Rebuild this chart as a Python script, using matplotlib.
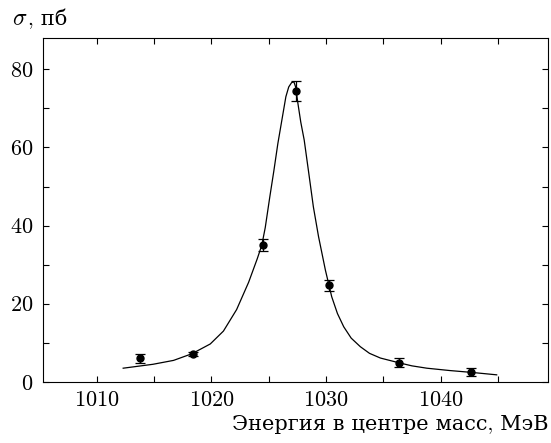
import matplotlib
matplotlib.use("Agg")
import matplotlib.pyplot as plt
from matplotlib.ticker import MultipleLocator

plt.rcParams['font.family'] = ['cmr10', 'DejaVu Serif']
plt.rcParams['mathtext.fontset'] = 'cm'
plt.rcParams['axes.formatter.use_mathtext'] = True

# measured points
energy = [1013.8, 1018.4, 1024.5, 1027.4, 1030.3, 1036.4, 1042.7]
sigma = [6.0, 7.2, 35.0, 74.4, 24.7, 4.9, 2.5]
sigma_err = [1.2, 0.5, 1.6, 2.6, 1.5, 1.2, 1.0]

# fit curve
fit_e = [1012.3, 1013.6, 1014.9, 1016.7, 1018.3, 1019.9, 1021.05, 1022.2,
         1023.25, 1024.0, 1024.4, 1024.7, 1025.1, 1025.45, 1025.8, 1026.15,
         1026.5, 1026.75, 1027.0, 1027.2, 1027.35, 1027.55, 1027.8, 1028.1,
         1028.5, 1028.9, 1029.35, 1029.95, 1030.5, 1031.0, 1031.55, 1032.2,
         1033.0, 1033.8, 1034.75, 1036.35, 1037.5, 1038.8, 1040.8, 1042.8,
         1044.9]
fit_s = [3.5, 4.0, 4.5, 5.5, 7.2, 9.7, 13.0, 18.5,
         25.5, 31.5, 35.0, 39.5, 47.4, 54.0, 61.0, 67.0,
         73.0, 75.5, 76.6, 76.8, 75.5, 71.3, 66.5, 61.9,
         53.4, 44.8, 37.2, 28.6, 21.8, 17.5, 14.1, 11.2,
         9.0, 7.3, 6.1, 4.9, 4.1, 3.5, 2.9, 2.4,
         1.8]

fig = plt.figure(figsize=(5.51, 4.43), dpi=100)
ax = fig.add_axes([0.078, 0.138, 0.917, 0.776])

ax.plot(fit_e, fit_s, color='black', linewidth=0.9)
ax.errorbar(energy, sigma, yerr=sigma_err, fmt='o', color='black',
            markersize=5, elinewidth=0.9, capsize=3.5, capthick=0.9)

ax.set_xlim(1005.3, 1049.4)
ax.set_ylim(0, 88)
ax.xaxis.set_major_locator(MultipleLocator(10))
ax.xaxis.set_minor_locator(MultipleLocator(5))
ax.yaxis.set_major_locator(MultipleLocator(20))
ax.yaxis.set_minor_locator(MultipleLocator(10))
ax.tick_params(which='both', direction='in', top=True, right=True,
               length=4.5, width=0.8, labelsize=16)
ax.tick_params(axis='y', pad=7)
ax.tick_params(axis='x', pad=6)
for s in ax.spines.values():
    s.set_linewidth(0.8)

# y-axis title: sigma in math italic, units in plain text
fig.text(0.022, 0.944, r'$\sigma$', fontsize=17, va='baseline')
fig.text(0.050, 0.944, ', пб', fontsize=15, va='baseline')
fig.text(0.995, 0.029, 'Энергия в центре масс, МэВ', fontsize=15,
         ha='right', va='baseline')

fig.savefig('out.png', dpi=100)
